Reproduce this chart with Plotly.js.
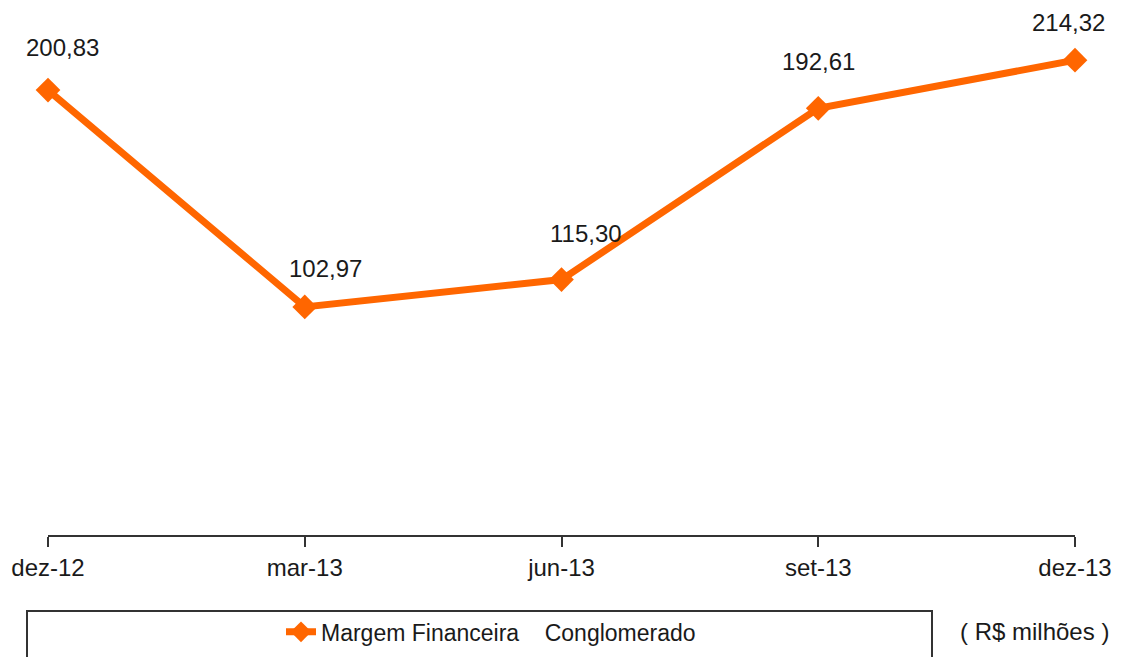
<!DOCTYPE html>
<html>
<head>
<meta charset="utf-8">
<script src="https://cdn.plot.ly/plotly-3.0.1.min.js"></script>
<style>html,body{margin:0;padding:0;background:#fff;}#chart{width:1125px;height:657px;}</style>
</head>
<body>
<div id="chart"></div>
<script>
const categories = ["dez-12", "mar-13", "jun-13", "set-13", "dez-13"];
const values = [200.83, 102.97, 115.30, 192.61, 214.32];
const seriesName = "Margem Financeira\u00a0\u00a0\u00a0\u00a0Conglomerado";
const unitNote = "( R$ milhões )";

// label offsets (style only)
const labelDx = [14, 21, 24, 0, -7];
const labelDy = [43, 38, 46, 47, 38];

const xs = categories.map((c, i) => i);
const fmt = v => v.toFixed(2).replace(".", ",");

const FONT = "Liberation Sans, Arial, sans-serif";
const orange = "#FF6600";

const trace = {
  x: xs, y: values, type: "scatter", mode: "lines+markers",
  name: seriesName,
  line: {color: orange, width: 7},
  marker: {symbol: "diamond", size: 19, color: orange},
  cliponaxis: false
};

const annotations = values.map((v, i) => ({
  x: xs[i], y: v, xref: "x", yref: "y", text: fmt(v), showarrow: false,
  xshift: labelDx[i], yshift: labelDy[i],
  font: {family: FONT, size: 24, color: "#1a1a1a"}
}));
annotations.push({
  xref: "paper", yref: "paper", x: (1034 - 48) / 1027, y: (538.5 - 636) / 534.5,
  text: unitNote, showarrow: false, xanchor: "center", yanchor: "middle",
  font: {family: FONT, size: 24, color: "#1a1a1a"}
});

const layout = {
  width: 1125, height: 657,
  margin: {l: 48, r: 50, t: 4, b: 118.5},
  paper_bgcolor: "#fff", plot_bgcolor: "#fff",
  showlegend: true,
  legend: {
    orientation: "h", x: (281 - 48) / 1027, y: (538.5 - 636) / 534.5,
    xanchor: "left", yanchor: "middle",
    font: {family: FONT, size: 23, color: "#1a1a1a"},
    bgcolor: "rgba(0,0,0,0)", borderwidth: 0
  },
  xaxis: {
    range: [0, 4], tickvals: xs, ticktext: categories,
    showgrid: false, zeroline: false, showline: true, linecolor: "#333", linewidth: 2,
    ticks: "outside", ticklen: 10, tickwidth: 2, tickcolor: "#333",
    tickfont: {family: FONT, size: 24, color: "#1a1a1a"}, fixedrange: true
  },
  yaxis: {
    range: [0, 239.7], visible: false, showgrid: false, zeroline: false, fixedrange: true
  },
  shapes: [{
    type: "rect", xref: "paper", yref: "paper",
    x0: (27 - 48) / 1027, x1: (932 - 48) / 1027,
    y0: (538.5 - 615) / 534.5, y1: (538.5 - 680) / 534.5,
    line: {color: "#333", width: 2}, fillcolor: "rgba(0,0,0,0)"
  }],
  annotations: annotations
};

Plotly.newPlot("chart", [trace], layout, {displayModeBar: false, staticPlot: true});
</script>
</body>
</html>
